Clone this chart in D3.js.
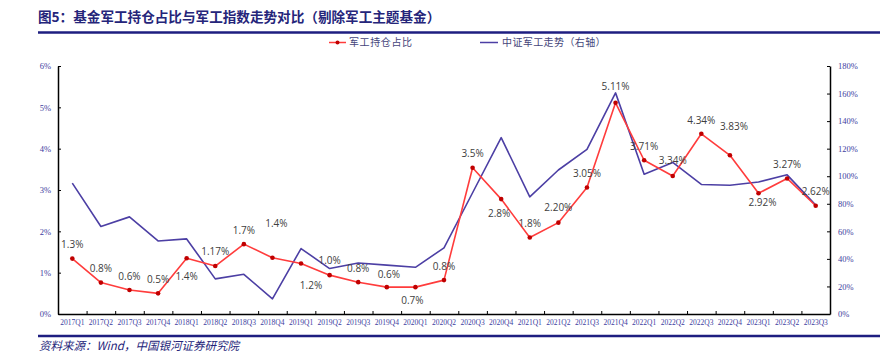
<!DOCTYPE html>
<html>
<head>
<meta charset="utf-8">
<script src="https://cdn.jsdelivr.net/npm/d3@7"></script>
<style>
    body { margin: 0; background: #fff; }
    svg { display: block; }
</style>
</head>
<body>
<div id="chart"></div>
<script>
// quarters on the x axis
const quarters = ["2017Q1", "2017Q2", "2017Q3", "2017Q4", "2018Q1", "2018Q2", "2018Q3", "2018Q4",
    "2019Q1", "2019Q2", "2019Q3", "2019Q4", "2020Q1", "2020Q2", "2020Q3", "2020Q4",
    "2021Q1", "2021Q2", "2021Q3", "2021Q4", "2022Q1", "2022Q2", "2022Q3", "2022Q4",
    "2023Q1", "2023Q2", "2023Q3"];

// 军工持仓占比 (%), left axis
const holding = [1.34, 0.76, 0.58, 0.50, 1.35, 1.16, 1.69, 1.36, 1.22, 0.94, 0.77, 0.65, 0.65, 0.82,
    3.54, 2.78, 1.85, 2.21, 3.06, 5.11, 3.72, 3.34, 4.36, 3.84, 2.92, 3.28, 2.62];

// labels as printed on the chart
const holdingLabels = ["1.3%", "0.8%", "0.6%", "0.5%", "1.4%", "1.17%", "1.7%", "1.4%",
    "1.2%", "1.0%", "0.8%", "0.6%", "0.7%", "0.8%", "3.5%", "2.8%",
    "1.8%", "2.20%", "3.05%", "5.11%", "3.71%", "3.34%", "4.34%", "3.83%",
    "2.92%", "3.27%", "2.62%"];

// 中证军工走势 (%), right axis
const index = [95, 63.5, 70.5, 53, 54.5, 25.5, 28.8, 11, 47.5, 33, 37, 35.5, 33.9, 48,
    88, 128, 85, 104.5, 119.5, 160.5, 101.5, 110, 94, 93.5, 95.8, 101, 79];

const leftTicks = [0, 1, 2, 3, 4, 5, 6];
const rightTicks = [0, 20, 40, 60, 80, 100, 120, 140, 160, 180];

// label placement relative to each point (dx, dy of the text centre)
const labelOffset = [[0, -14], [0, -14], [0, -14], [0, -14], [0, 18], [0, -15], [0, -14], [4, -34],
    [10, 22], [0, -15], [0, -14], [2, -13], [-3, 13], [0, -14], [0, -14], [-2, 14],
    [0, -14], [0, -15], [0, -14], [0, -16], [0, -14], [0, -15], [0, -13], [4, -29],
    [4, 9], [0, -14], [0, -14]];

const W = 880, H = 354;
const navy = "#25257a";
const red = "#ff3c3c";
const blue = "#4c3fa4";
const tickColor = "#3d3da0";

const svg = d3.select("#chart").append("svg")
    .attr("width", W)
    .attr("height", H);

const plot = { left: 58, right: 830, top: 66, bottom: 314 };

const x = d3.scaleBand()
    .domain(quarters)
    .range([plot.left, plot.right]);
const xc = (i) => x(quarters[i]) + x.bandwidth() / 2;

const yL = d3.scaleLinear().domain([0, 6]).range([plot.bottom, plot.top]);
const yR = d3.scaleLinear().domain([0, 180]).range([plot.bottom, plot.top]);

// title + rules
svg.append("text")
    .attr("x", 38)
    .attr("y", 22)
    .attr("fill", navy)
    .style("font-family", "'Noto Sans CJK SC', sans-serif")
    .style("font-weight", "bold")
    .style("font-size", "13.6px")
    .text("图5：基金军工持仓占比与军工指数走势对比（剔除军工主题基金）");

svg.append("line")
    .attr("x1", 38).attr("x2", W)
    .attr("y1", 32.5).attr("y2", 32.5)
    .attr("stroke", "#1e1e80").attr("stroke-width", 2.5);

svg.append("line")
    .attr("x1", 38).attr("x2", W)
    .attr("y1", 336).attr("y2", 336)
    .attr("stroke", "#1e1e80").attr("stroke-width", 2.5);

svg.append("text")
    .attr("x", 39)
    .attr("y", 350)
    .attr("fill", navy)
    .style("font-family", "'Noto Sans CJK SC', serif")
    .style("font-style", "italic")
    .style("font-size", "11.5px")
    .text("资料来源：Wind，中国银河证券研究院");

// legend
const legend = svg.append("g")
    .style("font-family", "'Noto Sans CJK SC', sans-serif")
    .style("font-size", "10px")
    .attr("fill", "#45457a");

legend.append("line")
    .attr("x1", 329).attr("x2", 346).attr("y1", 42.5).attr("y2", 42.5)
    .attr("stroke", red).attr("stroke-width", 1.5);
legend.append("circle")
    .attr("cx", 337.5).attr("cy", 42.5).attr("r", 2)
    .attr("fill", "#c00000");
legend.append("text")
    .attr("x", 349).attr("y", 46)
    .style("letter-spacing", "0.6px")
    .text("军工持仓占比");

legend.append("line")
    .attr("x1", 480).attr("x2", 498).attr("y1", 42.5).attr("y2", 42.5)
    .attr("stroke", blue).attr("stroke-width", 1.5);
legend.append("text")
    .attr("x", 502).attr("y", 46)
    .style("letter-spacing", "0.4px")
    .text("中证军工走势（右轴）");

// axes
function styleAxis(g) {
    g.selectAll(".domain").attr("stroke", "#000").attr("stroke-width", 1.5);
    g.selectAll(".tick line").attr("stroke", "#000").attr("stroke-width", 1);
    g.selectAll(".tick text")
        .attr("fill", tickColor)
        .style("font-family", "'Liberation Serif', serif");
}

const gL = svg.append("g")
    .attr("transform", `translate(${plot.left},0)`)
    .call(d3.axisLeft(yL)
        .tickValues(leftTicks)
        .tickSizeInner(-3)
        .tickSizeOuter(0)
        .tickPadding(7)
        .tickFormat((d) => d + "%"))
    .call(styleAxis);
gL.selectAll(".tick text").style("font-size", "8.5px");

const gR = svg.append("g")
    .attr("transform", `translate(${plot.right},0)`)
    .call(d3.axisRight(yR)
        .tickValues(rightTicks)
        .tickSizeInner(-3)
        .tickSizeOuter(0)
        .tickPadding(8)
        .tickFormat((d) => d + "%"))
    .call(styleAxis);
gR.selectAll(".tick text").style("font-size", "8.5px");

// x axis: ticks on band edges, labels at band centres
const xEdge = d3.scaleLinear().domain([0, quarters.length]).range([plot.left, plot.right]);
svg.append("g")
    .attr("transform", `translate(0,${plot.bottom})`)
    .call(d3.axisBottom(xEdge)
        .tickValues(d3.range(quarters.length + 1))
        .tickSizeInner(-3)
        .tickSizeOuter(0)
        .tickFormat(""))
    .call(styleAxis);

svg.append("g")
    .attr("transform", `translate(0,${plot.bottom})`)
    .call(d3.axisBottom(x).tickSize(0).tickPadding(6))
    .call((g) => g.select(".domain").remove())
    .call(styleAxis)
    .selectAll(".tick text")
    .style("font-size", "7.5px");

// series
const indexLine = d3.line()
    .x((d, i) => xc(i))
    .y((d) => yR(d));

svg.append("path")
    .datum(index)
    .attr("d", indexLine)
    .attr("fill", "none")
    .attr("stroke", blue)
    .attr("stroke-width", 1.6)
    .attr("stroke-linejoin", "round");

const holdLine = d3.line()
    .x((d, i) => xc(i))
    .y((d) => yL(d));

svg.append("path")
    .datum(holding)
    .attr("d", holdLine)
    .attr("fill", "none")
    .attr("stroke", red)
    .attr("stroke-width", 1.6)
    .attr("stroke-linejoin", "round");

svg.selectAll(".hold-dot")
    .data(holding)
    .enter()
    .append("circle")
    .attr("class", "hold-dot")
    .attr("cx", (d, i) => xc(i))
    .attr("cy", (d) => yL(d))
    .attr("r", 2.3)
    .attr("fill", "#c00000");

svg.selectAll(".hold-label")
    .data(holding)
    .enter()
    .append("text")
    .attr("class", "hold-label")
    .attr("x", (d, i) => xc(i) + labelOffset[i][0])
    .attr("y", (d, i) => yL(d) + labelOffset[i][1])
    .attr("dy", "0.35em")
    .attr("text-anchor", "middle")
    .attr("fill", "#404040")
    .style("font-family", "'Open Sans', 'Noto Sans', sans-serif")
    .style("font-size", "10px")
    .text((d, i) => holdingLabels[i]);
</script>
</body>
</html>
